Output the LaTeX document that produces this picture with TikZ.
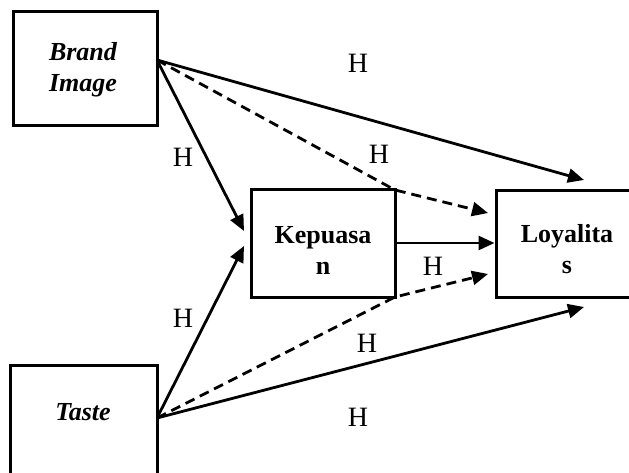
\documentclass[tikz,border=0pt]{standalone}
\usepackage{fontspec}
\setmainfont{Liberation Serif}
\usetikzlibrary{arrows.meta}
\begin{document}
\begin{tikzpicture}[x=1pt,y=-1pt,
  box/.style={draw,line width=3pt,rectangle,inner sep=0pt},
  boxtext/.style={font=\fontsize{26}{31}\selectfont\bfseries,align=center,inner sep=0pt},
  hlab/.style={font=\fontsize{28}{30}\selectfont,inner sep=0pt},
  conn/.style={line width=2.8pt,-{Triangle[length=16pt,width=14pt]}},
  dconn/.style={conn,dash pattern=on 10pt off 6pt}]
\useasboundingbox (0,0) rectangle (629,473);
\begin{scope}
\clip (0,0) rectangle (629,473);
\node[box,minimum width=144pt,minimum height=114pt] (brand) at (85,69) {};
\node[box,minimum width=147pt,minimum height=130pt] (taste) at (83.5,430) {};
\node[box,minimum width=144pt,minimum height=107pt] (kep) at (323,243.5) {};
\node[box,minimum width=146pt,minimum height=106pt] (loy) at (569,244) {};
\end{scope}
\node[boxtext] (brandt) at (83,70) {\itshape Brand\\\itshape Image};
\node[boxtext] (tastet) at (83,412) {\itshape Taste};
\node[boxtext] (kept) at (323,250) {Kepuasa\\n};
\node[boxtext] (loyt) at (567,249) {Loyalita\\s};

\coordinate (bo) at (157,60);
\coordinate (to) at (157,418);
\coordinate (kne) at (395,190);
\coordinate (kse) at (395,297);
\coordinate (loytop) at (584,180);
\coordinate (loybot) at (584,307);
\coordinate (loyd1) at (488,213);
\coordinate (loyd2) at (488,274);
\coordinate (kin1) at (244,231);
\coordinate (kin2) at (244,246);

\draw[conn] (bo) -- (loytop);
\draw[conn] (bo) -- (kin1);
\draw[dconn] (bo) -- (kne) -- (loyd1);
\draw[conn] (to) -- (kin2);
\draw[dconn] (to) -- (kse) -- (loyd2);
\draw[conn] (to) -- (loybot);
\draw[conn] (kep.east |- 0,243) -- (loy.west |- 0,243);

\node[hlab] (h1) at (358,63) {H};
\node[hlab] (h2) at (379,154) {H};
\node[hlab] (h3) at (183,157) {H};
\node[hlab] (h4) at (183,318) {H};
\node[hlab] (h5) at (433,266) {H};
\node[hlab] (h6) at (367,343) {H};
\node[hlab] (h7) at (358,417) {H};
\end{tikzpicture}
\end{document}
